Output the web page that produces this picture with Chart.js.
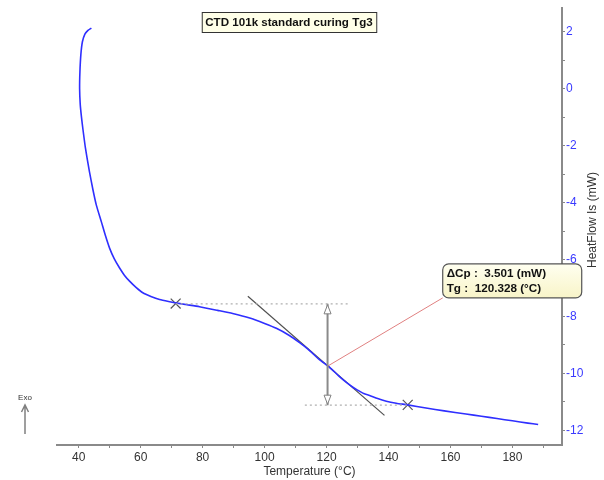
<!DOCTYPE html>
<html>
<head>
<meta charset="utf-8">
<script src="https://cdn.jsdelivr.net/npm/chart.js@4.4.1/dist/chart.umd.min.js"></script>
<style>
    body { margin: 0; background: #fff; }
    #dsc { display: block; }
</style>
</head>
<body>
<canvas id="dsc" width="604" height="480"></canvas>
<script>
// DSC curve (temperature in °C, heat flow in mW)
const temperature = [
    44.1, 43.0, 42.0, 41.2, 40.7, 40.4, 40.3, 40.5, 40.9, 41.4,
    42.2, 43.5, 44.6, 45.7, 47.3, 48.6, 50.0, 51.5, 53.2, 54.8,
    56.5, 58.5, 60.7, 63.3, 66.1, 69.0, 71.5, 75.0, 79.0, 84.9,
    89.7, 95.2, 100.0, 103.8, 108.0, 111.3, 114.0, 117.7, 121.0, 124.0,
    126.5, 128.5, 130.0, 132.0, 133.9, 136.5, 139.3, 142.5, 146.2, 152.1,
    158.0, 165.0, 170.0, 175.0, 180.0, 185.0, 188.3,
];
const heatFlow = [
    2.13, 2.05, 1.92, 1.65, 1.20, 0.60, 0.00, -0.55, -1.00, -1.45,
    -2.10, -2.93, -3.55, -4.09, -4.67, -5.15, -5.61, -5.98, -6.30, -6.56,
    -6.77, -6.98, -7.17, -7.30, -7.41, -7.48, -7.53, -7.59, -7.66, -7.79,
    -7.90, -8.06, -8.25, -8.42, -8.67, -8.92, -9.15, -9.52, -9.79, -10.10,
    -10.33, -10.49, -10.59, -10.71, -10.78, -10.89, -10.98, -11.05, -11.11, -11.22,
    -11.32, -11.43, -11.51, -11.59, -11.67, -11.75, -11.80,
];

// Tg analysis
const tg = 120.328;
const deltaCp = 3.501;
const tgHeatFlow = -9.75;
const onsetMarks = [[71.3, -7.55], [146.2, -11.11]];
const tangentLine = [[94.6, -7.29], [138.7, -11.48]];
const upperBase = [[71.3, -7.56], [127.4, -7.56]];
const lowerBase = [[113.0, -11.12], [146.2, -11.12]];
const labelAnchor = [157.5, -7.35];

// axis ticks
const xTicks = [40, 50, 60, 70, 80, 90, 100, 110, 120, 130, 140, 150, 160, 170, 180, 190];
const xTickLabels = [40, 60, 80, 100, 120, 140, 160, 180];
const yTicks = [-12, -11, -10, -9, -8, -7, -6, -5, -4, -3, -2, -1, 0, 1, 2];
const yTickLabels = [-12, -10, -8, -6, -4, -2, 0, 2];

const toPts = (arr) => arr.map(([x, y]) => ({ x, y }));

Chart.defaults.font.family = "'Liberation Sans', Arial, sans-serif";
Chart.defaults.font.size = 12;

// arrow heads, boxes and other bits the software puts over the plot
const decorations = {
    id: "decorations",
    afterDraw(chart) {
        const c = chart.ctx;
        const xs = chart.scales.x;
        const ys = chart.scales.y;

        // delta Cp arrow heads
        const ax = xs.getPixelForValue(tg);
        const aTop = ys.getPixelForValue(upperBase[0][1]);
        const aBot = ys.getPixelForValue(lowerBase[0][1]);
        c.save();
        c.strokeStyle = "#808080";
        c.fillStyle = "#fff";
        c.lineWidth = 1;
        [[aTop, 1], [aBot, -1]].forEach(([py, dir]) => {
            c.beginPath();
            c.moveTo(ax, py + 1 * dir);
            c.lineTo(ax - 3.5, py + 10 * dir);
            c.lineTo(ax + 3.5, py + 10 * dir);
            c.closePath();
            c.fill();
            c.stroke();
        });
        c.restore();

        // result label
        const lx = xs.getPixelForValue(labelAnchor[0]);
        const ly = ys.getPixelForValue(labelAnchor[1]);
        const bw = 139, bh = 34, r = 6;
        const bx = lx, by = ly - bh;
        c.save();
        const g = c.createLinearGradient(0, by, 0, by + bh);
        g.addColorStop(0, "#fffff0");
        g.addColorStop(1, "#f8f4c8");
        c.beginPath();
        c.roundRect(bx, by, bw, bh, r);
        c.fillStyle = g;
        c.fill();
        c.strokeStyle = "#555";
        c.lineWidth = 1.2;
        c.stroke();
        c.fillStyle = "#111";
        c.font = "bold 11.7px 'Liberation Sans', Arial, sans-serif";
        c.textBaseline = "middle";
        c.fillText("\u0394Cp :  " + deltaCp.toFixed(3) + " (mW)", bx + 4, by + 10);
        c.fillText("Tg :  " + tg.toFixed(3) + " (\u00B0C)", bx + 4, by + 25);
        c.restore();

        // title box
        c.save();
        c.font = "bold 11.6px 'Liberation Sans', Arial, sans-serif";
        const title = "CTD 101k standard curing Tg3";
        const tw = c.measureText(title).width + 7;
        const tx = 289 - tw / 2, ty = 12;
        c.fillStyle = "#ffffe8";
        c.fillRect(tx, ty, tw, 20);
        c.strokeStyle = "#333";
        c.lineWidth = 1;
        c.strokeRect(tx + 0.5, ty + 0.5, tw, 20);
        c.fillStyle = "#111";
        c.textAlign = "center";
        c.textBaseline = "middle";
        c.fillText(title, 289, ty + 11);
        c.restore();

        // y axis title, reading upwards
        c.save();
        c.translate(593, 220);
        c.rotate(-Math.PI / 2);
        c.fillStyle = "#333";
        c.font = "12px 'Liberation Sans', Arial, sans-serif";
        c.textAlign = "center";
        c.textBaseline = "middle";
        c.fillText("HeatFlow Is (mW)", 0, 0);
        c.restore();

        // Exo marker
        c.save();
        c.fillStyle = "#333";
        c.font = "8px 'Liberation Sans', Arial, sans-serif";
        c.textAlign = "center";
        c.fillText("Exo", 25, 400);
        c.strokeStyle = "#808080";
        c.lineWidth = 1.5;
        c.beginPath();
        c.moveTo(25, 434);
        c.lineTo(25, 405);
        c.moveTo(21.5, 412);
        c.lineTo(25, 405);
        c.lineTo(28.5, 412);
        c.stroke();
        c.restore();
    },
};

const lineSet = (data, color, width, dash) => ({
    data: toPts(data),
    showLine: true,
    borderColor: color,
    borderWidth: width,
    borderDash: dash || [],
    pointRadius: 0,
    fill: false,
});

new Chart(document.getElementById("dsc"), {
    type: "scatter",
    data: {
        datasets: [
            lineSet(upperBase, "#b0b0b0", 1.2, [2, 3]),
            lineSet(lowerBase, "#b0b0b0", 1.2, [2, 3]),
            lineSet([[tg, upperBase[0][1]], [tg, lowerBase[0][1]]], "#8a8a8a", 2),
            lineSet([[tg, tgHeatFlow], labelAnchor], "#e08080", 1),
            {
                data: temperature.map((t, i) => ({ x: t, y: heatFlow[i] })),
                showLine: true,
                borderColor: "#2f2fff",
                borderWidth: 1.6,
                pointRadius: 0,
                tension: 0.2,
                fill: false,
            },
            lineSet(tangentLine, "#505050", 1.2),
            {
                data: toPts(onsetMarks),
                showLine: false,
                pointStyle: "crossRot",
                pointRadius: 7,
                borderColor: "#555",
                borderWidth: 1.2,
            },
        ],
    },
    options: {
        responsive: false,
        animation: false,
        layout: {
            padding: { left: 57, top: 5, right: 0, bottom: 0 },
        },
        scales: {
            x: {
                type: "linear",
                min: 33,
                max: 196,
                afterFit: (scale) => { scale.height = 35; },
                afterBuildTicks: (scale) => {
                    scale.ticks = xTicks.map((v) => ({ value: v }));
                },
                grid: {
                    drawOnChartArea: false,
                    drawTicks: true,
                    tickLength: 3,
                    tickColor: "#888",
                },
                border: { color: "#8a8a8a", width: 2 },
                ticks: {
                    color: "#333",
                    padding: 2,
                    maxRotation: 0,
                    autoSkip: false,
                    callback: (v) => (xTickLabels.includes(v) ? v : ""),
                },
                title: {
                    display: true,
                    text: "Temperature (\u00B0C)",
                    color: "#333",
                    padding: { top: 0, bottom: 1 },
                },
            },
            y: {
                type: "linear",
                position: "right",
                min: -12.52,
                max: 2.83,
                afterFit: (scale) => { scale.width = 42; },
                afterBuildTicks: (scale) => {
                    scale.ticks = yTicks.map((v) => ({ value: v }));
                },
                grid: {
                    drawOnChartArea: false,
                    drawTicks: true,
                    tickLength: 3,
                    tickColor: "#888",
                },
                border: { color: "#8a8a8a", width: 2 },
                ticks: {
                    color: "#3a3aff",
                    padding: 1,
                    autoSkip: false,
                    callback: (v) => (yTickLabels.includes(v) ? v : ""),
                },
            },
        },
        plugins: {
            legend: { display: false },
            tooltip: { enabled: false },
        },
    },
    plugins: [decorations],
});
</script>
</body>
</html>
